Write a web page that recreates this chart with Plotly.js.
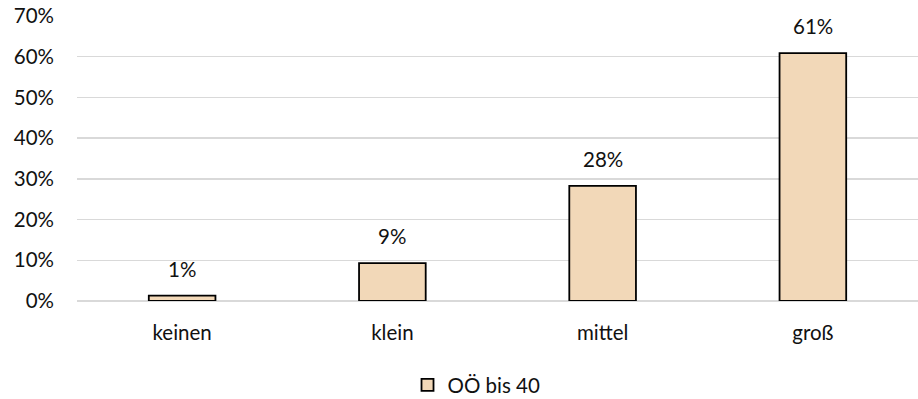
<!DOCTYPE html>
<html>
<head>
<meta charset="utf-8">
<script src="https://cdn.plot.ly/plotly-3.0.1.min.js"></script>
<style>html,body{margin:0;padding:0;background:#fff}#chart{width:918px;height:399px}</style>
</head>
<body>
<div id="chart"></div>
<script>
const categories = ['keinen', 'klein', 'mittel', 'groß'];
const values = [0.013, 0.093, 0.283, 0.609];
const valueLabels = ['1%', '9%', '28%', '61%'];
const seriesName = 'OÖ bis 40';
const yTicks = [0, 0.1, 0.2, 0.3, 0.4, 0.5, 0.6, 0.7];
const yTickLabels = ['0%', '10%', '20%', '30%', '40%', '50%', '60%', '70%'];

const FONT = 'Lato, "Open Sans", sans-serif';
const TXT = '#111111';
const FS = 20.5;

const trace = {
  type: 'bar',
  x: categories,
  y: values,
  name: seriesName,
  marker: { color: '#F2D8B8', line: { color: '#000000', width: 1.8 } },
  hoverinfo: 'skip',
  showlegend: true
};

const annotations = categories.map((c, i) => ({
  x: c, y: values[i], xref: 'x', yref: 'y',
  text: valueLabels[i], showarrow: false,
  yanchor: 'bottom', yshift: 13,
  font: { family: FONT, size: FS, color: TXT }
}));

const layout = {
  width: 918, height: 399,
  margin: { l: 77, r: 0, t: 16, b: 98, autoexpand: false },
  paper_bgcolor: '#fff', plot_bgcolor: '#fff',
  font: { family: FONT, size: FS, color: TXT },
  bargap: 0.683,
  xaxis: {
    type: 'category', showgrid: false, zeroline: false, showline: false,
    ticks: '', ticklabelstandoff: 17, automargin: false,
    tickfont: { family: FONT, size: FS, color: TXT }
  },
  yaxis: {
    range: [0, 0.7], tickvals: yTicks, ticktext: yTickLabels,
    showgrid: true, gridcolor: '#d9d9d9', gridwidth: 1.5,
    zeroline: true, zerolinecolor: '#d9d9d9', zerolinewidth: 1.5,
    showline: false, ticks: '', ticklabelstandoff: 22, automargin: false,
    tickfont: { family: FONT, size: FS, color: TXT }
  },
  showlegend: true,
  legend: {
    orientation: 'h', x: 0.393, xanchor: 'left',
    yref: 'container', y: 0.035, yanchor: 'middle',
    font: { family: FONT, size: FS, color: TXT },
    itemwidth: 30
  },
  annotations: annotations
};

Plotly.newPlot('chart', [trace], layout, { displayModeBar: false, staticPlot: true });
</script>
</body>
</html>
